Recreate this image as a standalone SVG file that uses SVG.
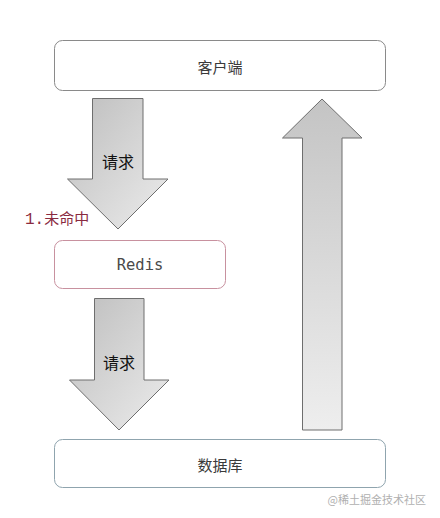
<svg xmlns="http://www.w3.org/2000/svg" width="440" height="518" viewBox="0 0 440 518">
<style>
.box{fill:#fff;stroke-width:1}
.lbl{font-family:"Noto Sans CJK SC","Liberation Sans",sans-serif;font-size:15px;fill:#3a3a3a;text-anchor:middle;dominant-baseline:central}
.arr{stroke:#6e6e6e;stroke-width:1}
.atxt{font-family:"Noto Sans CJK SC",sans-serif;font-size:16px;fill:#111;text-anchor:middle;dominant-baseline:central}
</style>
<defs>
<linearGradient id="gd" x1="0" y1="0" x2="1" y2="1">
<stop offset="0" stop-color="#bdbdbd"/>
<stop offset="1" stop-color="#ececec"/>
</linearGradient>
<linearGradient id="gu" x1="0" y1="0" x2="0" y2="1">
<stop offset="0" stop-color="#c4c4c4"/>
<stop offset="1" stop-color="#eeeeee"/>
</linearGradient>
</defs>
<rect width="440" height="518" fill="#fff"/>
<g id="connectors">
<g id="req1">
<polygon class="arr" fill="url(#gd)" points="92.5,98.5 143,98.5 143,179 168,179 118,229 67.5,179 92.5,179"/>
<text class="atxt" x="118" y="161">请求</text>
</g>
<g id="req2">
<polygon class="arr" fill="url(#gd)" points="94.5,298.5 144,298.5 144,380 169,380 119,430 69.5,380 94.5,380"/>
<text class="atxt" x="119" y="362">请求</text>
</g>
<g id="resp">
<polygon class="arr" fill="url(#gu)" points="302.5,430 342,430 342,138 362,138 322,99 282.5,138 302.5,138"/>
</g>
<text x="25" y="224" font-family="'Liberation Mono','Noto Sans CJK SC',monospace" font-size="16" fill="#8a2a40">1.<tspan font-family="'Noto Sans CJK SC',sans-serif" font-size="15">未命中</tspan></text>
</g>
<g id="client">
<rect class="box" x="54.5" y="40.5" width="331" height="50" rx="8" stroke="#8a8a8a"/>
<text class="lbl" x="220" y="66">客户端</text>
</g>
<g id="redis">
<rect class="box" x="54.5" y="240.5" width="171" height="48" rx="8" stroke="#c8919f"/>
<text class="lbl" x="140" y="265" style="font-family:'DejaVu Sans Mono',monospace;font-size:15.5px;fill:#4a4a4a">Redis</text>
</g>
<g id="db">
<rect class="box" x="54.5" y="439.5" width="331" height="48" rx="8" stroke="#8fa4ae"/>
<text class="lbl" x="220" y="464">数据库</text>
</g>
<text x="426" y="499" font-family="'Noto Sans CJK SC',sans-serif" font-size="11" fill="#b0b0b0" text-anchor="end" dominant-baseline="central">@稀土掘金技术社区</text>
</svg>
